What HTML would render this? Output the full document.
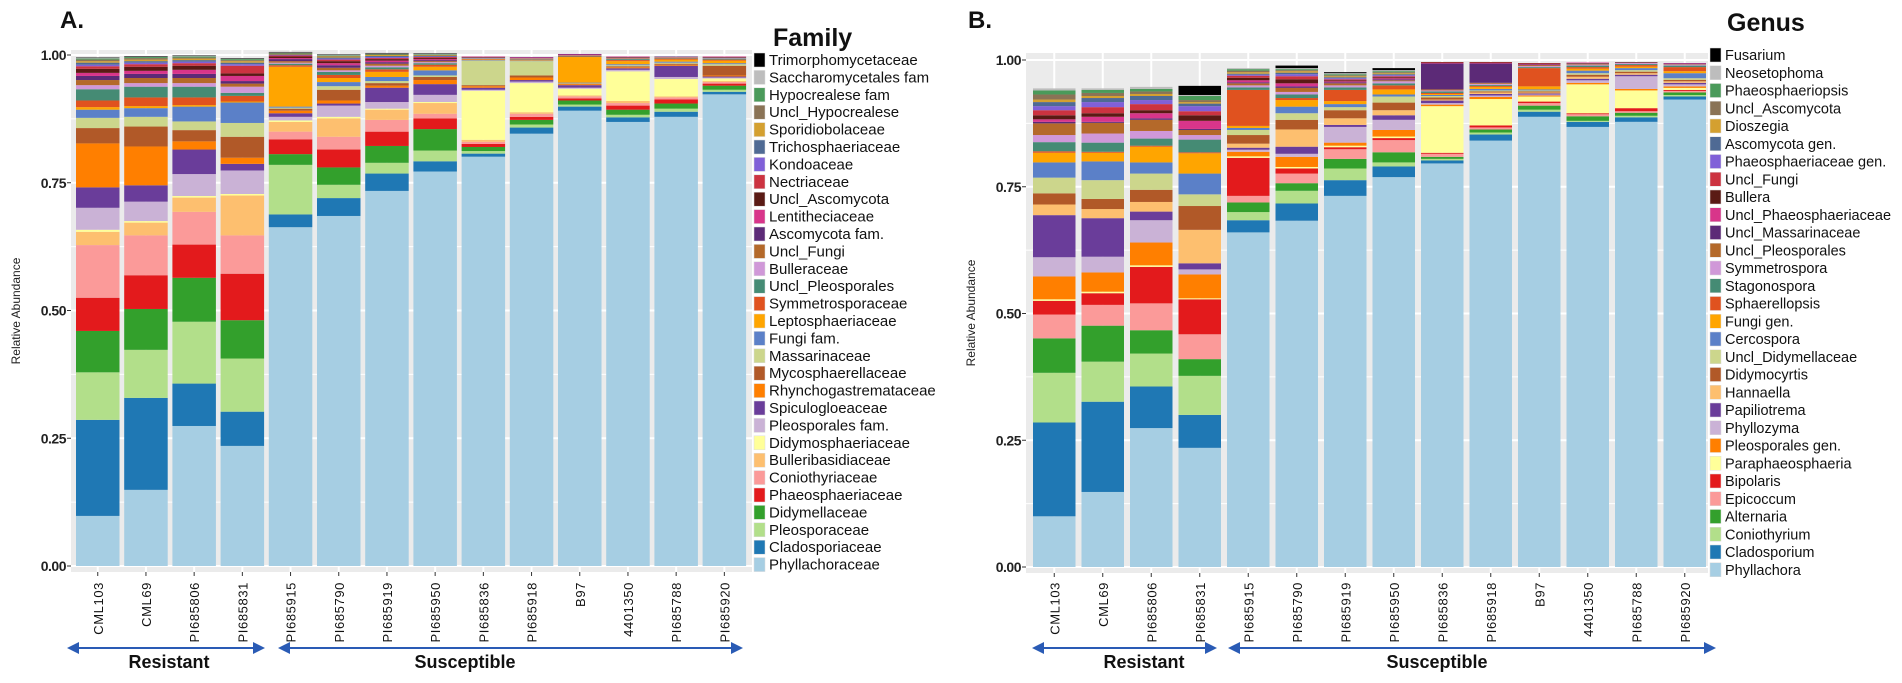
<!DOCTYPE html>
<html><head><meta charset="utf-8"><style>
html,body{margin:0;padding:0;background:#fff;}
svg{display:block;font-family:"Liberation Sans",sans-serif;}
</style></head><body>
<svg id="chart" width="1902" height="683" viewBox="0 0 1902 683" xmlns="http://www.w3.org/2000/svg"></svg>
<script>
const samples = ["CML103","CML69","PI685806","PI685831","PI685915","PI685790","PI685919","PI685950","PI685836","PI685918","B97","4401350","PI685788","PI685920"];
const yTicks = [0, 0.25, 0.5, 0.75, 1];
const yTickLabels = ["0.00","0.25","0.50","0.75","1.00"];

const famNames = ["Phyllachoraceae","Cladosporiaceae","Pleosporaceae","Didymellaceae","Phaeosphaeriaceae","Coniothyriaceae","Bulleribasidiaceae","Didymosphaeriaceae","Pleosporales fam.","Spiculogloeaceae","Rhynchogastremataceae","Mycosphaerellaceae","Massarinaceae","Fungi fam.","Leptosphaeriaceae","Symmetrosporaceae","Uncl_Pleosporales","Bulleraceae","Uncl_Fungi","Ascomycota fam.","Lentitheciaceae","Uncl_Ascomycota","Nectriaceae","Kondoaceae","Trichosphaeriaceae","Sporidiobolaceae","Uncl_Hypocrealese","Hypocrealese fam","Saccharomycetales fam","Trimorphomycetaceae"];
const famColors = ["#a6cee3","#1f78b4","#b2df8a","#33a02c","#e31a1c","#fb9a99","#fdbf6f","#ffff99","#cab2d6","#6a3d9a","#ff7f00","#b15928","#ccd68c","#5b80c8","#ffa500","#e0521f","#458b74","#d098d8","#b4692a","#5c2a77","#d8358a","#5a1a14","#cc3340","#8060d8","#4f6a94","#d4a030","#8a7356","#4a9a5a","#bdbdbd","#000000"];
const famValues = [
[0.098,0.188,0.093,0.081,0.065,0.103,0.026,0.004,0.043,0.04,0.086,0.03,0.02,0.016,0.005,0.013,0.022,0.008,0.01,0.008,0.006,0.008,0.005,0.003,0.004,0.003,0.003,0.002,0.001,0.001],
[0.149,0.18,0.094,0.08,0.066,0.078,0.025,0.003,0.038,0.032,0.076,0.039,0.019,0.017,0.004,0.017,0.021,0.007,0.01,0.008,0.006,0.008,0.005,0.003,0.003,0.003,0.003,0.002,0.001,0.001],
[0.274,0.083,0.121,0.086,0.065,0.064,0.028,0.003,0.043,0.048,0.016,0.022,0.017,0.029,0.003,0.015,0.021,0.007,0.01,0.008,0.008,0.008,0.005,0.003,0.003,0.003,0.002,0.002,0.001,0.001],
[0.235,0.067,0.104,0.075,0.091,0.075,0.078,0.003,0.046,0.013,0.012,0.041,0.027,0.04,0.002,0.011,0.006,0.012,0.006,0.005,0.01,0.005,0.015,0.003,0.003,0.003,0.002,0.002,0.001,0.001],
[0.663,0.025,0.097,0.021,0.029,0.015,0.019,0.003,0.007,0.007,0.005,0.004,0.002,0.002,0.078,0.003,0.003,0.002,0.003,0.004,0.002,0.003,0.002,0.001,0.001,0.001,0.001,0.001,0.001,0.001],
[0.685,0.035,0.026,0.034,0.035,0.025,0.036,0.003,0.022,0.004,0.006,0.021,0.007,0.008,0.008,0.006,0.006,0.003,0.005,0.005,0.004,0.004,0.003,0.002,0.002,0.002,0.001,0.001,0.001,0.001],
[0.734,0.034,0.021,0.033,0.028,0.023,0.02,0.002,0.013,0.028,0.004,0.005,0.004,0.008,0.01,0.005,0.004,0.003,0.004,0.003,0.003,0.003,0.002,0.002,0.002,0.002,0.001,0.001,0.001,0.001],
[0.772,0.02,0.021,0.042,0.021,0.009,0.021,0.002,0.014,0.021,0.008,0.006,0.003,0.01,0.007,0.004,0.003,0.002,0.002,0.002,0.002,0.002,0.002,0.001,0.001,0.001,0.001,0.001,0.001,0.001],
[0.801,0.006,0.005,0.008,0.006,0.004,0.004,0.096,0.002,0.004,0.003,0.002,0.048,0.001,0.001,0.001,0.001,0.001,0.001,0.001,0.001,0,0,0,0,0,0,0,0,0],
[0.846,0.012,0.006,0.009,0.006,0.006,0.003,0.057,0.003,0.003,0.005,0.004,0.028,0.001,0.001,0.001,0.001,0.001,0.001,0.001,0.001,0,0,0,0,0,0,0,0,0],
[0.891,0.008,0.004,0.008,0.004,0.004,0.002,0.013,0.002,0.005,0.002,0.001,0.001,0.001,0.05,0.001,0.001,0.001,0.001,0.001,0.001,0,0,0,0,0,0,0,0,0],
[0.869,0.009,0.005,0.01,0.008,0.005,0.004,0.058,0.003,0.003,0.002,0.002,0.002,0.002,0.006,0.002,0.002,0.001,0.002,0.001,0.001,0,0,0,0,0,0,0,0,0],
[0.879,0.01,0.006,0.01,0.008,0.004,0.002,0.034,0.004,0.022,0.002,0.002,0.002,0.002,0.004,0.002,0.001,0.001,0.001,0.001,0,0,0,0,0,0,0,0,0,0],
[0.923,0.005,0.004,0.008,0.004,0.003,0.002,0.005,0.002,0.002,0.002,0.019,0.003,0.002,0.005,0.002,0.002,0.001,0.001,0.001,0.001,0,0,0,0,0,0,0,0,0]
];

const genNames = ["Phyllachora","Cladosporium","Coniothyrium","Alternaria","Epicoccum","Bipolaris","Paraphaeosphaeria","Pleosporales gen.","Phyllozyma","Papiliotrema","Hannaella","Didymocyrtis","Uncl_Didymellaceae","Cercospora","Fungi  gen.","Sphaerellopsis","Stagonospora","Symmetrospora","Uncl_Pleosporales","Uncl_Massarinaceae","Uncl_Phaeosphaeriaceae","Bullera","Uncl_Fungi","Phaeosphaeriaceae gen.","Ascomycota gen.","Dioszegia","Uncl_Ascomycota","Phaeosphaeriopsis","Neosetophoma","Fusarium"];
const genColors = ["#a6cee3","#1f78b4","#b2df8a","#33a02c","#fb9a99","#e31a1c","#ffff99","#ff7f00","#cab2d6","#6a3d9a","#fdbf6f","#b15928","#ccd68c","#5b80c8","#ffa500","#e0521f","#458b74","#d098d8","#b4692a","#5c2a77","#d8358a","#5a1a14","#cc3340","#8060d8","#4f6a94","#d4a030","#8a7356","#4a9a5a","#bdbdbd","#000000"];
const genValues = [
[0.1,0.185,0.098,0.068,0.047,0.027,0.003,0.045,0.038,0.083,0.021,0.022,0.031,0.03,0.019,0.003,0.018,0.014,0.023,0.003,0.005,0.008,0.01,0.008,0.008,0.005,0.01,0.008,0.004,0],
[0.148,0.178,0.079,0.071,0.041,0.023,0.003,0.038,0.031,0.076,0.018,0.02,0.037,0.037,0.017,0.002,0.018,0.018,0.021,0.002,0.01,0.007,0.012,0.01,0.008,0.004,0.006,0.006,0.003,0],
[0.274,0.082,0.065,0.046,0.053,0.072,0.003,0.045,0.044,0.017,0.019,0.024,0.032,0.022,0.031,0.002,0.014,0.015,0.022,0.003,0.01,0.006,0.012,0.008,0.008,0.004,0.005,0.005,0.004,0],
[0.235,0.065,0.077,0.033,0.049,0.069,0.002,0.047,0.01,0.012,0.066,0.047,0.023,0.041,0.04,0.002,0.025,0.009,0.01,0.002,0.016,0.011,0.008,0.01,0.005,0.003,0.004,0.008,0.002,0.018],
[0.66,0.024,0.016,0.019,0.013,0.075,0.003,0.009,0.004,0.004,0.008,0.017,0.01,0.004,0.004,0.071,0.005,0.004,0.004,0.002,0.004,0.005,0.004,0.002,0.002,0.003,0.003,0.003,0.002,0],
[0.683,0.034,0.025,0.015,0.019,0.01,0.003,0.02,0.006,0.014,0.034,0.019,0.013,0.013,0.013,0.004,0.007,0.005,0.008,0.003,0.006,0.008,0.006,0.004,0.003,0.003,0.002,0.002,0.002,0.005],
[0.732,0.031,0.023,0.019,0.019,0.004,0.003,0.006,0.031,0.004,0.013,0.016,0.006,0.006,0.006,0.022,0.005,0.004,0.004,0.002,0.002,0.002,0.002,0.002,0.002,0.002,0.002,0.002,0.002,0.002],
[0.769,0.021,0.008,0.02,0.024,0.004,0.003,0.013,0.02,0.009,0.01,0.015,0.012,0.004,0.01,0.008,0.004,0.004,0.002,0.002,0.002,0.002,0.002,0.002,0.002,0.002,0.002,0.002,0.002,0.004],
[0.796,0.006,0.003,0.004,0.006,0.002,0.092,0.003,0.003,0.005,0.002,0.004,0.003,0.002,0.002,0.002,0.003,0.002,0.002,0.051,0.001,0.001,0.001,0,0,0,0,0,0,0],
[0.841,0.012,0.004,0.006,0.004,0.004,0.052,0.004,0.003,0.003,0.003,0.002,0.002,0.003,0.004,0.002,0.002,0.002,0.002,0.038,0.001,0.001,0.001,0,0,0,0,0,0,0],
[0.888,0.01,0.004,0.008,0.005,0.003,0.01,0.002,0.002,0.002,0.002,0.002,0.002,0.002,0.006,0.036,0.002,0.002,0.002,0.001,0.001,0.001,0.001,0,0,0,0,0,0,0],
[0.868,0.01,0.002,0.009,0.004,0.002,0.057,0.003,0.005,0.003,0.004,0.004,0.003,0.005,0.004,0.003,0.003,0.002,0.002,0.001,0.001,0,0,0,0,0,0,0,0,0],
[0.878,0.009,0.003,0.006,0.003,0.006,0.035,0.003,0.025,0.003,0.003,0.003,0.003,0.004,0.003,0.003,0.002,0.002,0.001,0.001,0,0,0,0,0,0,0,0,0,0],
[0.922,0.006,0.003,0.005,0.003,0.002,0.004,0.003,0.004,0.003,0.003,0.003,0.003,0.01,0.004,0.008,0.003,0.002,0.001,0.001,0.001,0,0,0,0,0,0,0,0,0]
];

const NS = "http://www.w3.org/2000/svg";
const svg = document.getElementById("chart");
function mk(tag, attrs, parent, text) {
  const e = document.createElementNS(NS, tag);
  for (const k in attrs) e.setAttribute(k, attrs[k]);
  if (text !== undefined) e.textContent = text;
  (parent || svg).appendChild(e);
  return e;
}

function drawPanel(cfg) {
  const g = mk("g", {});
  
  
  const yScale = v => cfg.y0 - (cfg.y0 - cfg.y1) * v;
  const xScale = i => cfg.barX0 + i * cfg.pitch;
  // background
  const bg = mk("rect", {x: cfg.px0, y: cfg.py0, width: cfg.px1 - cfg.px0, height: cfg.py1 - cfg.py0, fill: "#ebebeb"}, g);
  
  
  // grid
  for (let v = 0; v <= 1.0001; v += 0.125) {
    const gl = mk("line", {x1: cfg.px0, x2: cfg.px1, y1: yScale(v), y2: yScale(v), stroke: "#fff", "stroke-width": (Math.round(v * 8) % 2 === 0) ? 2 : 1}, g);
    
    
  }
  samples.forEach((s, i) => {
    const cx = xScale(i) + cfg.bw / 2;
    const vl = mk("line", {x1: cx, x2: cx, y1: cfg.py0, y2: cfg.py1, stroke: "#fff", "stroke-width": 2}, g);
    
    
  });
  // bars
  cfg.values.forEach((row, i) => {
    const bg2 = mk("g", {}, g);
    
    
    let cum = 0;
    row.forEach((v, k) => {
      if (v <= 0) return;
      const yTop = yScale(cum + v), yBot = yScale(cum);
      cum += v;
      const r = mk("rect", {x: xScale(i), y: yTop, width: cfg.bw, height: Math.max(0.3, yBot - yTop), fill: cfg.colors[k]}, bg2);
      
      
    });
  });
  // y ticks
  yTicks.forEach((v, j) => {
    const tk = mk("line", {x1: cfg.px0 - 4, x2: cfg.px0, y1: yScale(v), y2: yScale(v), stroke: "#333", "stroke-width": 1}, g);
    
    
    const tl = mk("text", {x: cfg.px0 - 5, y: yScale(v) + 5, "text-anchor": "end", "font-size": 14, "font-weight": "bold", fill: "#222", "letter-spacing": "-0.5"}, g, yTickLabels[j]);
    
    
  });
  // x ticks and labels
  samples.forEach((s, i) => {
    const cx = xScale(i) + cfg.bw / 2;
    const tk = mk("line", {x1: cx, x2: cx, y1: cfg.py1, y2: cfg.py1 + 4, stroke: "#333"}, g);
    
    
    const t = mk("text", {x: 0, y: 0, transform: `translate(${cx + 5},${cfg.labelTop}) rotate(-90)`, "text-anchor": "end", "font-size": 13, fill: "#111", "letter-spacing": "0.6"}, g, s);
    
    
  });
  // y title
  const yt = mk("text", {x: 0, y: 0, transform: `translate(${cfg.yTitleX},${(cfg.py0 + cfg.py1) / 2}) rotate(-90)`, "text-anchor": "middle", "font-size": 12, fill: "#222"}, g, "Relative Abundance");
  
  
  // panel letter
  const pl = mk("text", {x: cfg.letterX, y: 28, "font-size": 24, "font-weight": "bold", fill: "#111"}, g, cfg.letter);
  
  
  // legend
  const lg = mk("g", {}, g);
  
  
  const lt = mk("text", {x: cfg.legTitleX, y: cfg.legTitleY, "font-size": 25, "font-weight": "bold", fill: "#111"}, lg, cfg.legTitle);
  
  
  const n = cfg.names.length;
  for (let j = 0; j < n; j++) {
    const k = n - 1 - j;
    const cy = cfg.legY0 + j * cfg.legStep;
    const e = mk("g", {}, lg);
    
    
    mk("rect", {x: cfg.legX, y: cy - 7, width: 11, height: 14, fill: cfg.colors[k], stroke: "#ddd", "stroke-width": 0.5}, e);
    mk("text", {x: cfg.legX + 15, y: cy + 5, "font-size": cfg.legFont, fill: "#111"}, e, cfg.names[k]);
  }
  // group arrows
  const ag = mk("g", {}, g);
  
  
  cfg.groups.forEach(gr => {
    const a = mk("g", {}, ag);
    
    
    mk("line", {x1: gr.x0 + 8, x2: gr.x1 - 8, y1: 648, y2: 648, stroke: "#2a5bb5", "stroke-width": 2}, a);
    mk("polygon", {points: `${gr.x0},648 ${gr.x0 + 12},642 ${gr.x0 + 12},654`, fill: "#2a5bb5"}, a);
    mk("polygon", {points: `${gr.x1},648 ${gr.x1 - 12},642 ${gr.x1 - 12},654`, fill: "#2a5bb5"}, a);
    mk("text", {x: gr.tx, y: 668, "text-anchor": "middle", "font-size": 18, "font-weight": "bold", fill: "#111"}, a, gr.name);
  });
}

drawPanel({id: "family", letter: "A.", letterX: 60, values: famValues, names: famNames, colors: famColors,
  px0: 71, px1: 752, py0: 50, py1: 572, y0: 566, y1: 55, barX0: 76, pitch: 48.2, bw: 43.5,
  labelTop: 582, yTitleX: 20, legTitle: "Family", legTitleX: 773, legTitleY: 46, legX: 754, legY0: 60, legStep: 17.4, legFont: 15,
  groups: [{name: "Resistant", x0: 67, x1: 265, tx: 169}, {name: "Susceptible", x0: 278, x1: 743, tx: 465}]});
drawPanel({id: "genus", letter: "B.", letterX: 968, values: genValues, names: genNames, colors: genColors,
  px0: 1026, px1: 1708, py0: 53, py1: 573, y0: 567, y1: 60, barX0: 1033, pitch: 48.5, bw: 42.5,
  labelTop: 582, yTitleX: 975, legTitle: "Genus", legTitleX: 1727, legTitleY: 31, legX: 1710, legY0: 55, legStep: 17.75, legFont: 14.5,
  groups: [{name: "Resistant", x0: 1032, x1: 1217, tx: 1144}, {name: "Susceptible", x0: 1228, x1: 1716, tx: 1437}]});
</script>
</body></html>
